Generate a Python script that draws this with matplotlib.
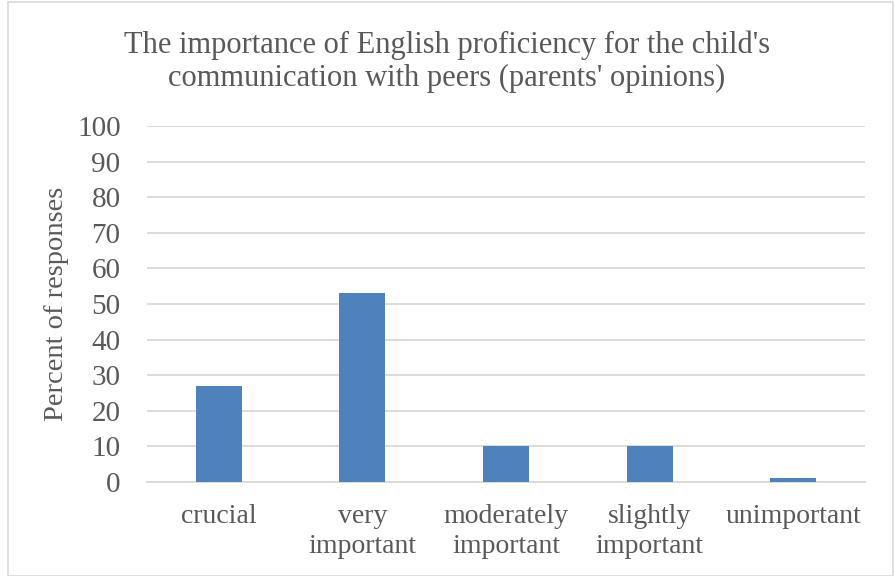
import matplotlib
matplotlib.use('Agg')
import matplotlib.pyplot as plt
from matplotlib.patches import Rectangle

categories = ['crucial', 'very\nimportant', 'moderately\nimportant', 'slightly\nimportant', 'unimportant']
percents = [27, 53, 10, 10, 1]
yticks = [0, 10, 20, 30, 40, 50, 60, 70, 80, 90, 100]

text_col = '#595959'
grid_col = '#d9d9d9'
bar_col = '#4f81bd'

fig = plt.figure(figsize=(8.94, 5.76), dpi=100)
ax = fig.add_axes([0.1644, 0.1632, 0.8032, 0.6181])

ax.bar(range(len(categories)), percents, width=0.32, color=bar_col, zorder=3)
ax.set_xlim(-0.5, len(categories) - 0.5)
ax.set_ylim(0, 100)
ax.set_yticks(yticks)
ax.set_xticks(range(len(categories)))
ax.set_xticklabels(categories, linespacing=1.25)

for s in ['top', 'right', 'left']:
    ax.spines[s].set_visible(False)
ax.spines['bottom'].set_color(grid_col)
ax.spines['bottom'].set_linewidth(1.3)
ax.grid(axis='y', color=grid_col, linewidth=1.3, zorder=0)
ax.tick_params(length=0, colors=text_col)
ax.tick_params(axis='y', pad=19, labelsize=21)
ax.tick_params(axis='x', pad=16, labelsize=20)
for lab in ax.get_xticklabels() + ax.get_yticklabels():
    lab.set_family('Liberation Serif')

ax.set_ylabel('Percent of responses', family='Liberation Serif', fontsize=20.5,
              color=text_col, labelpad=6)

fig.text(0.5, 0.893, "The importance of English proficiency for the child's\n"
         "communication with peers (parents' opinions)",
         ha='center', va='center', fontsize=22, color=text_col,
         family='Liberation Serif', linespacing=1.15)

fig.patches.append(Rectangle((0.009, 0.0), 0.99, 0.996, transform=fig.transFigure,
                             fill=False, edgecolor=grid_col, linewidth=1.2))

fig.savefig('out.png', dpi=100)
